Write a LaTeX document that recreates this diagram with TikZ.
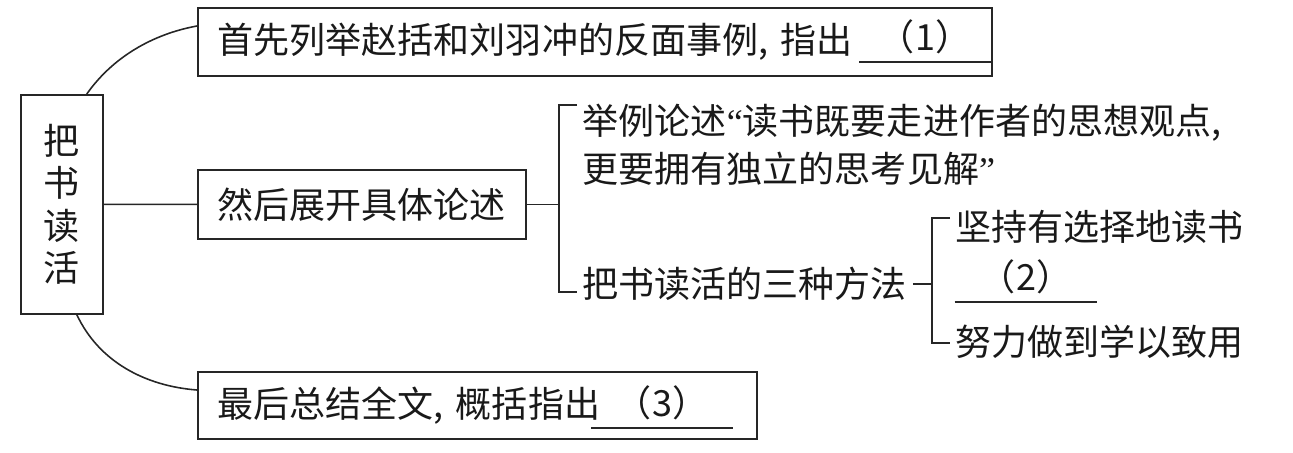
\documentclass[tikz,border=0pt]{standalone}
\usepackage{fontspec}
\setmainfont{Noto Sans CJK SC}
\newfontfamily\quotefont{Liberation Serif}
\newcommand{\openq}{{\quotefont “}}
\newcommand{\closeq}{{\quotefont ”}}
\usetikzlibrary{calc}

\begin{document}
\begin{tikzpicture}[
  x=0.2mm, y=-0.2mm,
  line width=0.9pt, draw=black!85, text=black!90,
  font=\fontsize{20.5pt}{24pt}\selectfont,
  box/.style={draw, anchor=north west, inner xsep=4mm, inner ysep=0pt},
  item/.style={anchor=west, inner xsep=1mm, inner ysep=0pt},
  blank/.style={anchor=south, inner xsep=0pt, inner ysep=1.4mm}
]
\useasboundingbox (0,0) rectangle (1293,452);

\node[box, inner xsep=0pt, minimum width=16.4mm, minimum height=43.8mm, align=center] (main) at (20,94) {把\\书\\读\\活};

\node[box, minimum height=13.6mm, text width=150.8mm, align=left] (first) at (197,7) {首先列举赵括和刘羽冲的反面事例, 指出};
\node[box, minimum width=65.6mm, minimum height=13.8mm] (second) at (197,169) {然后展开具体论述};
\node[box, minimum height=13.4mm, text width=103.8mm, align=left] (third) at (197,371) {最后总结全文, 概括指出};

\node[blank, minimum width=26mm] (blank1) at (925,62) {（1）};
\node[blank, minimum width=28mm] (blank3) at (662,428) {（3）};

\node[item, anchor=north west, align=left, font=\fontsize{20.5pt}{27.3pt}\selectfont] (ex) at (577,103) {举例论述\openq 读书既要走进作者的思想观点,\\更要拥有独立的思考见解\closeq};
\node[item] (way) at (577,284) {把书读活的三种方法};

\node[item] (keep) at (950,227) {坚持有选择地读书};
\node[blank, minimum width=28.2mm] (blank2) at (1026,302) {（2）};
\node[item] (apply) at (950,342) {努力做到学以致用};

\draw (blank1.south west) -- (blank1.south east);
\draw (blank2.south west) -- (blank2.south east);
\draw (blank3.south west) -- (blank3.south east);

\draw ([xshift=5mm]main.north) .. controls +(26,-37) and +(-44,8) .. ([yshift=-3.8mm]first.north west);
\draw (main.east) -- (second.west);
\draw ([xshift=3mm]main.south) .. controls +(22,47) and +(-52,-4) .. ([yshift=-3.8mm]third.north west);

\coordinate (fork1) at ($(second.east)+(32,0)$);
\draw (second.east) -- (fork1);
\draw ([yshift=-0.4mm]ex.north west) -| (fork1) |- ([yshift=-1.6mm]way.west);

\coordinate (fork2) at ($(way.east)+(19,0)$);
\draw (way.east) -- (fork2);
\draw ([yshift=1.8mm]keep.west) -| (fork2) |- ([yshift=-0.2mm]apply.west);
\end{tikzpicture}
\end{document}
